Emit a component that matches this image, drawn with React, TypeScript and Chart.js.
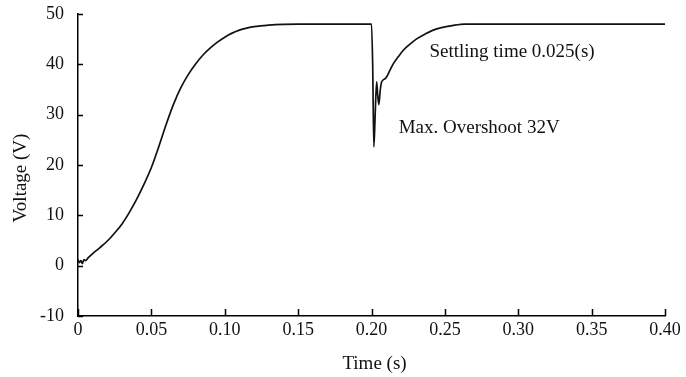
import React, { useEffect, useRef } from "react";
import { Chart, registerables } from "chart.js";

Chart.register(...registerables);

// Output voltage response of the converter (time in seconds, voltage in volts)
const timeSec: number[] = [
  0, 0.001, 0.002, 0.003, 0.004, 0.005, 0.007, 0.01, 0.015, 0.02, 0.025, 0.03,
  0.035, 0.04, 0.045, 0.05, 0.055, 0.06, 0.065, 0.07, 0.075, 0.08, 0.085, 0.09,
  0.095, 0.1, 0.105, 0.11, 0.115, 0.12, 0.13, 0.14, 0.15, 0.2, 0.2008, 0.2016,
  0.2025, 0.2035, 0.2042, 0.205, 0.206, 0.2069, 0.2096, 0.2125, 0.215, 0.2182,
  0.222, 0.2262, 0.231, 0.2364, 0.242, 0.2477, 0.255, 0.2636, 0.4,
];
const voltage: number[] = [
  1.2, 0.6, 1.0, 0.4, 1.2, 1.0, 1.6, 2.4, 3.6, 4.9, 6.5, 8.3, 10.6, 13.2, 16.2,
  19.5, 23.6, 28.0, 32.0, 35.3, 37.9, 40.0, 41.8, 43.2, 44.4, 45.4, 46.2, 46.8,
  47.2, 47.5, 47.8, 47.95, 48.0, 48.0, 40.0, 23.6, 30.0, 36.5, 34.0, 32.0, 35.0,
  36.5, 37.2, 38.8, 40.2, 41.5, 42.9, 44.0, 45.1, 46.0, 46.8, 47.3, 47.7, 48.0,
  48.0,
];

const xTickValues: number[] = [0, 0.05, 0.1, 0.15, 0.2, 0.25, 0.3, 0.35, 0.4];
const yTickValues: number[] = [-10, 0, 10, 20, 30, 40, 50];

const xTitle = "Time (s)";
const yTitle = "Voltage (V)";
const settlingNote = "Settling time 0.025(s)";
const overshootNote = "Max. Overshoot 32V";

const SERIF = "'Liberation Serif', 'Times New Roman', serif";
const INK = "#111";

// Inward tick marks, axis titles and the two annotations
const overlayPlugin = {
  id: "overlay",
  afterDraw(chart: any) {
    const ctx = chart.ctx as CanvasRenderingContext2D;
    const xs = chart.scales.x;
    const ys = chart.scales.y;
    const area = chart.chartArea;
    ctx.save();
    ctx.strokeStyle = "#000";
    ctx.lineWidth = 1.5;
    ctx.beginPath();
    for (const v of yTickValues) {
      const py = Math.round(ys.getPixelForValue(v)) + 0.5;
      ctx.moveTo(area.left, py);
      ctx.lineTo(area.left + 5, py);
    }
    for (const v of xTickValues) {
      const px = Math.round(xs.getPixelForValue(v)) + 0.5;
      ctx.moveTo(px, area.bottom);
      ctx.lineTo(px, area.bottom - 7);
    }
    ctx.stroke();

    ctx.fillStyle = INK;
    ctx.font = `19px ${SERIF}`;
    ctx.textBaseline = "alphabetic";
    ctx.textAlign = "left";
    ctx.fillText(settlingNote, xs.getPixelForValue(0.2395), ys.getPixelForValue(41.5));
    ctx.fillText(overshootNote, xs.getPixelForValue(0.2185), ys.getPixelForValue(26.4));

    ctx.textAlign = "center";
    ctx.fillText(xTitle, (area.left + area.right) / 2 + 3, 369);

    ctx.translate(26, (area.top + area.bottom) / 2 + 13);
    ctx.rotate(-Math.PI / 2);
    ctx.fillText(yTitle, 0, 0);
    ctx.restore();
  },
};

export default function App() {
  const canvasRef = useRef<HTMLCanvasElement | null>(null);

  useEffect(() => {
    document.body.style.margin = "0";
    const canvas = canvasRef.current;
    if (!canvas) return;
    const points = timeSec.map((t, i) => ({ x: t, y: voltage[i] }));
    const chart = new Chart(canvas, {
      type: "line",
      data: {
        datasets: [
          {
            data: points,
            borderColor: INK,
            borderWidth: 1.7,
            pointRadius: 0,
            cubicInterpolationMode: "monotone",
            fill: false,
          },
        ],
      },
      options: {
        animation: false,
        responsive: false,
        devicePixelRatio: 1,
        layout: { padding: { left: 0, right: 21, top: 14, bottom: 0 } },
        plugins: {
          legend: { display: false },
          tooltip: { enabled: false },
        },
        scales: {
          x: {
            type: "linear",
            min: 0,
            max: 0.4,
            afterFit: (scale: any) => {
              scale.height = 61;
              scale.paddingLeft = 0;
              scale.paddingRight = 0;
            },
            afterBuildTicks: (scale: any) => {
              scale.ticks = xTickValues.map((v) => ({ value: v }));
            },
            grid: { display: false, drawTicks: false },
            border: { display: true, color: "#000", width: 1.5 },
            ticks: {
              autoSkip: false,
              maxRotation: 0,
              padding: 3,
              color: INK,
              font: { family: SERIF, size: 18 },
              callback: (v: any) => (Number(v) === 0 ? "0" : Number(v).toFixed(2)),
            },
          },
          y: {
            type: "linear",
            min: -10,
            max: 50,
            afterFit: (scale: any) => {
              scale.width = 78;
              scale.paddingTop = 0;
              scale.paddingBottom = 0;
            },
            afterBuildTicks: (scale: any) => {
              scale.ticks = yTickValues.map((v) => ({ value: v }));
            },
            grid: { display: false, drawTicks: false },
            border: { display: true, color: "#000", width: 1.5 },
            ticks: {
              padding: 14,
              color: INK,
              font: { family: SERIF, size: 18 },
              callback: (v: any) => String(v),
            },
          },
        },
      },
      plugins: [overlayPlugin],
    });
    return () => chart.destroy();
  }, []);

  return (
    <div style={{ width: 686, height: 377 }}>
      <canvas ref={canvasRef} width={686} height={377} />
    </div>
  );
}
